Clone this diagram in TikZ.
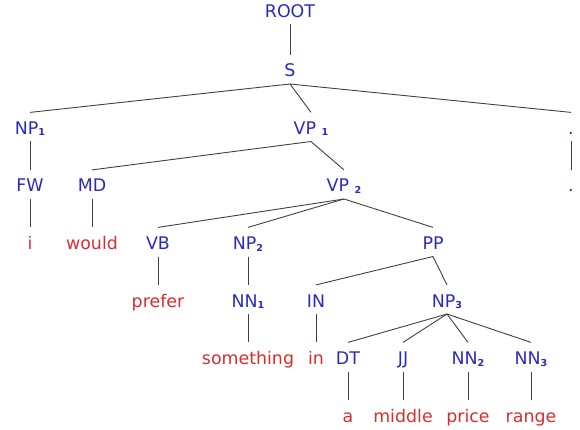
\documentclass[tikz,border=0pt]{standalone}
\usepackage{fontspec}
\setmainfont{DejaVu Sans}
\definecolor{catblue}{RGB}{42,42,190}
\definecolor{wordred}{RGB}{220,45,45}
\newcommand{\idx}[1]{\raisebox{-1.5pt}{\fontsize{9.6}{10}\selectfont\bfseries #1}}
\begin{document}
\begin{tikzpicture}[x=1pt,y=-1pt,
  lbl/.style={anchor=base, inner xsep=0pt, inner ysep=0pt, outer sep=0pt,
    text height=12.6pt, text depth=7pt, font=\fontsize{17.4}{20}\selectfont},
  cat/.style={lbl, text=catblue},
  word/.style={lbl, text=wordred},
  branch/.style={draw=black!75, line width=0.9pt}]
\useasboundingbox (0,0) rectangle (580,430);
% phrase and tag labels
\node[cat] (root) at (290,17.5) {ROOT};
\node[cat] (s)    at (290,77) {S};
\node[cat] (np1)  at (30,134.5) {NP\idx{1}};
\node[cat] (vp1)  at (311,134.5) {VP \idx{1}};
\node[cat] (dot1) at (571,134.5) {.};
\node[cat] (fw)   at (30,192) {FW};
\node[cat] (md)   at (92,192) {MD};
\node[cat] (vp2)  at (344,192) {VP \idx{2}};
\node[cat] (dot2) at (571,192) {.};
\node[cat] (vb)   at (158,249.5) {VB};
\node[cat] (np2)  at (248,249.5) {NP\idx{2}};
\node[cat] (pp)   at (433,249.5) {PP};
\node[cat] (nn1)  at (248,307) {NN\idx{1}};
\node[cat] (in)   at (316,307) {IN};
\node[cat] (np3)  at (447,307) {NP\idx{3}};
\node[cat] (dt)   at (348,364.5) {DT};
\node[cat] (jj)   at (403,364.5) {JJ};
\node[cat] (nn2)  at (468,364.5) {NN\idx{2}};
\node[cat] (nn3)  at (531,364.5) {NN\idx{3}};
% words
\node[word] (w1) at (30,249.5) {i};
\node[word] (w2) at (92,249.5) {would};
\node[word] (w3) at (158,307) {prefer};
\node[word] (w4) at (248,364.5) {something};
\node[word] (w5) at (316,364.5) {in};
\node[word] (w6) at (348,422) {a};
\node[word] (w7) at (403,422) {middle};
\node[word] (w8) at (468,422) {price};
\node[word] (w9) at (531,422) {range};
% branches
\foreach \p/\c in {root/s, s/np1, s/vp1, s/dot1, np1/fw, vp1/md, vp1/vp2,
    dot1/dot2, fw/w1, md/w2, vp2/vb, vp2/np2, vp2/pp, vb/w3, np2/nn1,
    pp/in, pp/np3, nn1/w4, in/w5, np3/dt, np3/jj, np3/nn2, np3/nn3,
    dt/w6, jj/w7, nn2/w8, nn3/w9}
  \draw[branch] (\p.south) -- ([yshift=9.5pt]\c.north);
\end{tikzpicture}
\end{document}
